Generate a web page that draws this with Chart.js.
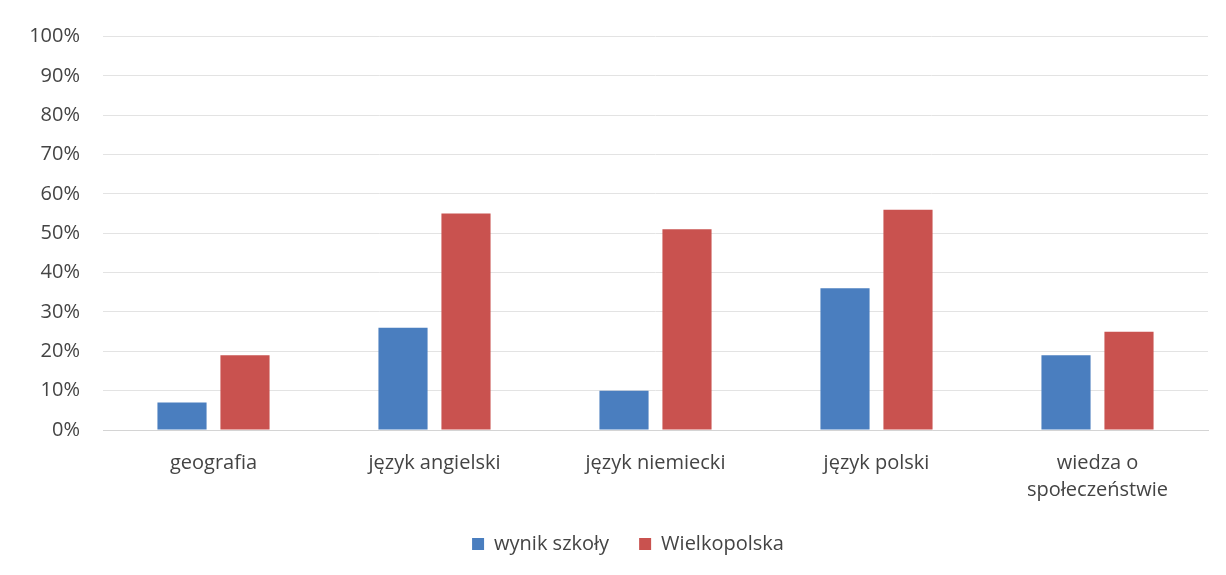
<!DOCTYPE html>
<html>
<head>
<meta charset="utf-8">
<script src="https://cdn.jsdelivr.net/npm/chart.js@4"></script>
<style>
  html, body { margin: 0; padding: 0; background: #fff; }
  #wrap { width: 1226px; height: 575px; }
</style>
</head>
<body>
<div id="wrap"><canvas id="chart"></canvas></div>
<script>
// subjects on the x axis
const subjects = ['geografia', 'język angielski', 'język niemiecki', 'język polski', ['wiedza o', 'społeczeństwie']];
// results in percent
const schoolResult = [7, 26, 10, 36, 19];
const regionResult = [19, 55, 51, 56, 25];
const seriesNames = ['wynik szkoły', 'Wielkopolska'];

const textColor = '#444444';
const font = { family: 'Open Sans', size: 20, lineHeight: 1.35 };

// wider gap between legend items without making the legend taller,
// and the legend sits a bit right of the canvas centre
const legendGap = 30;
const extra = legendGap - 18;
const legendShift = 24;
const legendSpacing = {
    id: 'legendSpacing',
    beforeLayout(chart) {
        const lg = chart.legend;
        if (lg && !lg._patched) {
            const fit = lg.fit.bind(lg);
            lg.fit = function () { fit(); this.height -= extra; };
            lg._patched = true;
        }
    },
    afterLayout(chart) {
        const lg = chart.legend;
        if (!lg) return;
        lg.top -= extra;
        lg.left += legendShift;
        lg.right += legendShift;
    }
};

new Chart(document.getElementById('chart').getContext('2d'), {
    type: 'bar',
    data: {
        labels: subjects,
        datasets: [{
            label: seriesNames[0],
            data: schoolResult,
            backgroundColor: '#4A7EBF'
        }, {
            label: seriesNames[1],
            data: regionResult,
            backgroundColor: '#C9524F'
        }]
    },
    plugins: [legendSpacing],
    options: {
        responsive: true,
        maintainAspectRatio: false,
        animation: false,
        categoryPercentage: 0.57,
        barPercentage: 0.78,
        layout: {
            padding: { left: 0, right: 18, top: 33, bottom: 11 }
        },
        plugins: {
            tooltip: { enabled: false },
            legend: {
                position: 'bottom',
                labels: {
                    color: textColor,
                    font: font,
                    boxWidth: 12,
                    boxHeight: 12,
                    padding: legendGap
                }
            }
        },
        scales: {
            x: {
                grid: { display: false },
                border: { color: '#d4d4d4' },
                ticks: {
                    color: textColor,
                    font: font,
                    padding: 12,
                    maxRotation: 0,
                    autoSkip: false
                }
            },
            y: {
                min: 0,
                max: 100,
                afterFit: function (scale) { scale.width = 103; },
                grid: { color: '#e3e3e3', drawTicks: false },
                border: { display: false },
                ticks: {
                    stepSize: 10,
                    color: textColor,
                    font: font,
                    padding: 23,
                    callback: function (v) { return v + '%'; }
                }
            }
        }
    }
});
</script>
</body>
</html>
